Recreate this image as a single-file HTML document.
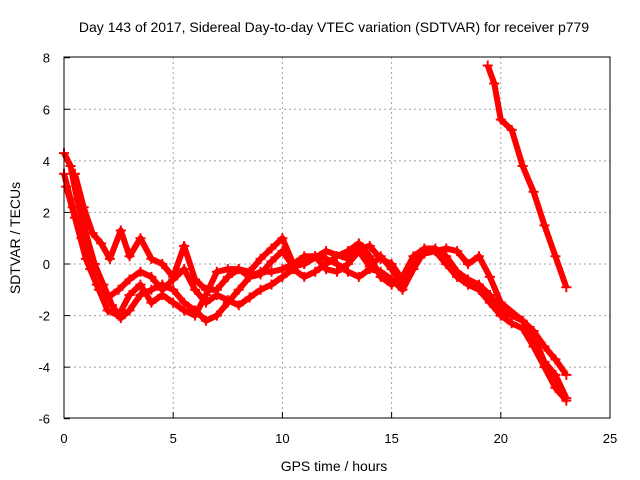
<!DOCTYPE html>
<html><head><meta charset="utf-8"><style>
body{margin:0;background:#fff}
svg{display:block;font-family:"Liberation Sans",sans-serif}
</style></head><body>
<svg id="c" width="640" height="480">
<rect width="640" height="480" fill="#fff"/>
<text x="334" y="32" font-size="14" text-anchor="middle" fill="#000">Day 143 of 2017, Sidereal Day-to-day VTEC variation (SDTVAR) for receiver p779</text>
<text x="334" y="471" font-size="14" text-anchor="middle">GPS time / hours</text>
<text transform="translate(20,238) rotate(-90)" font-size="14" text-anchor="middle">SDTVAR / TECUs</text>
<g id="grid"></g><g id="ticks"></g><g id="marks"></g>
<rect x="64" y="57" width="546" height="361" fill="none" stroke="#000" stroke-width="1"/>
</svg>
<script>
const xTicks=[0,5,10,15,20,25];
const yTicks=[-6,-4,-2,0,2,4,6,8];
const s1h=[0,0.3,0.6,1,1.4,1.8,2.2,2.6,3,3.5,4,4.5,5,5.5,6,6.5,7,7.5,8,8.5,9,9.5,10,10.5,11,11.5,12,12.5,13,13.5,14,14.5,15,15.5,16,16.5,17,17.5,18,18.5,19,19.5,20,20.5,21,21.5,22,22.5,23];
const s1v=[4.3,3.8,2.5,1.2,0,-0.8,-1.6,-2.1,-1.8,-1.2,-1.0,-0.8,-1.0,-1.5,-1.8,-2.2,-2.0,-1.5,-1.0,-0.5,-0.3,-0.3,-0.2,0,0.3,0.3,0.2,0,-0.3,-0.5,-0.2,-0.3,-0.6,-1.0,-0.2,0.5,0.5,0,-0.5,-0.8,-1.0,-1.5,-2.0,-2.3,-2.5,-3.2,-4.0,-4.8,-5.3];
const s2h=[0,0.4,0.8,1.2,1.6,2,2.5,3,3.5,4,4.5,5,5.5,6,6.5,7,7.5,8,8.5,9,9.5,10,10.5,11,11.5,12,12.5,13,13.5,14,14.5,15,15.5,16,16.5,17,17.5,18,18.5,19,19.5,20,20.5,21,21.5,22,22.5,23];
const s2v=[3.5,2.2,1.0,-0.2,-1.0,-1.3,-1.0,-0.6,-0.3,-0.5,-1.0,-0.6,-0.2,-1.0,-1.5,-1.2,-1.4,-1.6,-1.3,-1.0,-0.8,-0.5,-0.2,-0.5,-0.3,0,0.3,0.5,0.8,0.3,-0.5,-0.8,-0.5,0.3,0.6,0.6,0.3,-0.3,-0.6,-0.8,-1.2,-1.8,-2.0,-2.2,-2.6,-3.2,-3.7,-4.3];
const s3h=[0.5,0.9,1.3,1.7,2.1,2.6,3.0,3.5,4,4.5,5,5.5,6,6.5,7,7.5,8,8.5,9,9.5,10,10.5,11,12,13,13.5,14,14.5,15,15.5,16,16.5,17.5,18,18.5,19,19.5,20,21,21.5,22,22.5,23];
const s3v=[3.5,2.2,1.2,0.8,0.2,1.3,0.3,1.0,0.2,0,-0.5,0.7,-0.6,-1.0,-1.0,-0.5,-0.2,-0.3,0.2,0.6,1.0,0,0,0.5,0.2,0.6,0.7,0.2,0,-0.6,0,0.4,0.6,0.5,0,0.3,-0.5,-1.5,-2.2,-2.8,-3.8,-4.3,-5.2];
const s4h=[19.4,19.7,20,20.5,21,21.5,22,22.5,23];
const s4v=[7.7,7.0,5.6,5.2,3.8,2.8,1.5,0.3,-0.9];
const s5h=[0.1,0.5,1,1.5,2,2.5,3,3.5,4,4.5,5,5.5,6,6.5,7,7.5,8,8.5,9,9.5,10,10.5,11,11.5,12,12.5,13,13.5,14,14.5,15,15.5];
const s5v=[3.0,1.8,0.2,-0.8,-1.8,-2.0,-1.2,-0.8,-1.5,-1.2,-1.5,-1.8,-2.0,-1.2,-0.3,-0.2,-0.2,-0.5,-0.4,0.1,0.5,-0.1,0,0.3,-0.2,-0.3,0,0.5,-0.1,0.3,-0.2,-0.8];
const X=h=>64+h*546/25, Y=v=>264-v*361/14;
const NS="http://www.w3.org/2000/svg";
function mk(t,a,p){const e=document.createElementNS(NS,t);for(const k in a)e.setAttribute(k,a[k]);p.appendChild(e);return e;}
const grid=document.getElementById('grid'),ticks=document.getElementById('ticks'),marks=document.getElementById('marks');
xTicks.forEach(t=>{
 if(t>0&&t<25){const l=mk('line',{x1:X(t),x2:X(t),y1:57,y2:418,stroke:'#a0a0a0','stroke-dasharray':'2,3'},grid);
 
 }
 const tl=mk('text',{x:X(t),y:443,'font-size':13,'text-anchor':'middle'},ticks);tl.textContent=t;
 
 
 mk('line',{x1:X(t),x2:X(t),y1:418,y2:412,stroke:'#000'},ticks);
});
yTicks.forEach(t=>{
 if(t>-6&&t<8){const l=mk('line',{x1:64,x2:610,y1:Y(t),y2:Y(t),stroke:'#a0a0a0','stroke-dasharray':'2,3'},grid);
 
 }
 const tl=mk('text',{x:50,y:Y(t)+5,'font-size':13,'text-anchor':'end'},ticks);tl.textContent=t;
 
 
 mk('line',{x1:64,x2:70,y1:Y(t),y2:Y(t),stroke:'#000'},ticks);
});
[[s1h,s1v],[s2h,s2v],[s3h,s3v],[s4h,s4v],[s5h,s5v]].forEach((s,i)=>{
 const pts=s[0].map((h,j)=>X(h)+','+Y(s[1][j])).join(' ');
 const pl=mk('polyline',{points:pts,fill:'none',stroke:'#f00','stroke-width':6,'stroke-linejoin':'round'},marks);
 
 
 s[0].forEach((h,j)=>{
  const x=X(h),y=Y(s[1][j]);
  const p=mk('path',{d:`M${x-5},${y}H${x+5}M${x},${y-5}V${y+5}`,stroke:'#f00','stroke-width':2},marks);
  
  
 });
});
</script>
</body></html>
